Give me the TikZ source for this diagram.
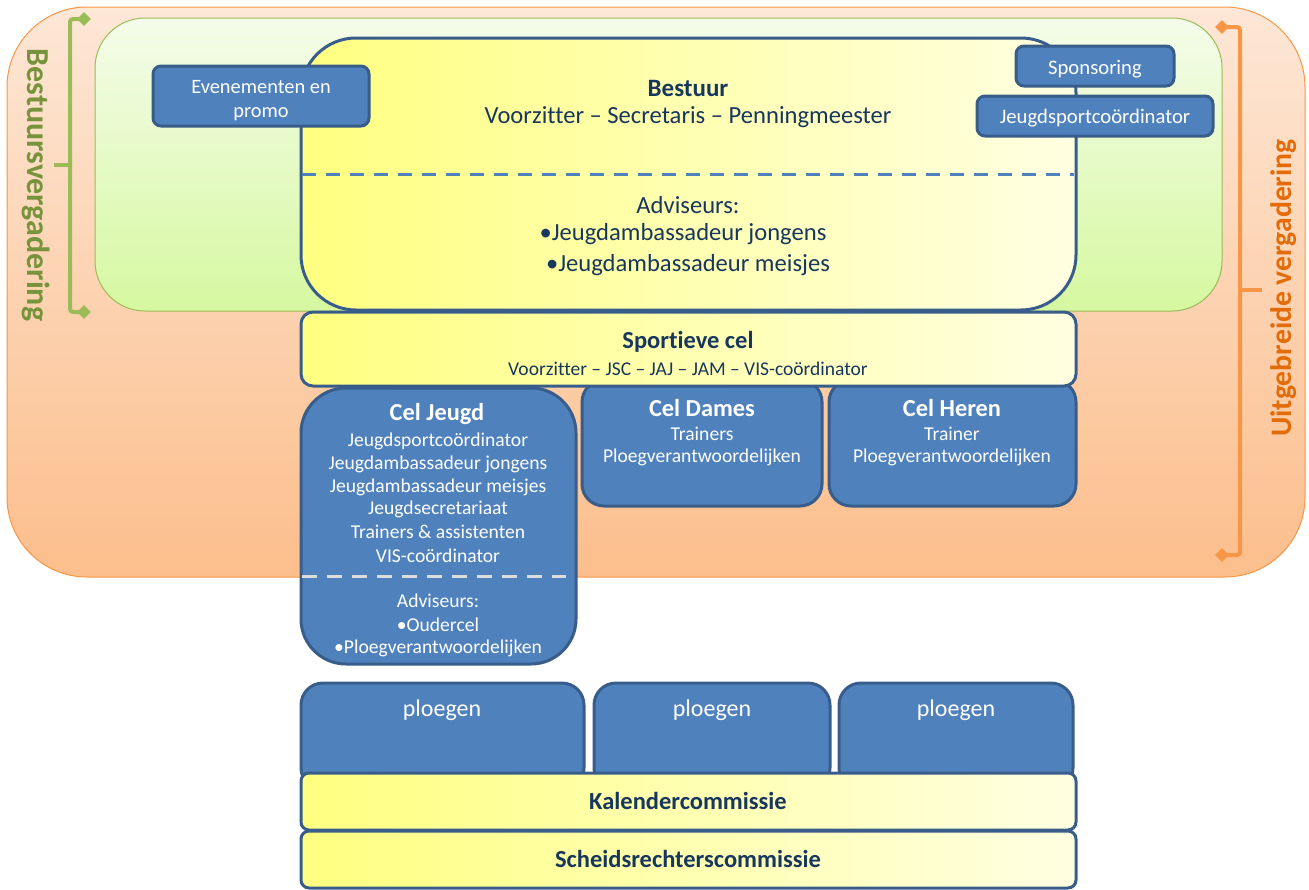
\documentclass[tikz,border=0pt]{standalone}
\usepackage{fontspec}
\setmainfont{Carlito}[Ligatures=CommonOff]
\usetikzlibrary{shapes.geometric}
\definecolor{blueF}{HTML}{4F81BD}
\definecolor{blueD}{HTML}{385D8A}
\definecolor{navy}{HTML}{17375E}
\definecolor{yelA}{HTML}{FFFF80}
\definecolor{yelB}{HTML}{FFFFE2}
\definecolor{orA}{HTML}{FDE7D6}
\definecolor{orB}{HTML}{FCBE8C}
\definecolor{orLine}{HTML}{F79646}
\definecolor{orText}{HTML}{E36C09}
\definecolor{grA}{HTML}{F4FCEA}
\definecolor{grB}{HTML}{D6F8A0}
\definecolor{grLine}{HTML}{9BBB59}
\definecolor{grText}{HTML}{77933C}
\definecolor{dashGrey}{HTML}{DCDCDC}
\tikzset{
  bluebox/.style={draw=blueD, line width=3, fill=blueF, inner sep=0},
  yelbox/.style={draw=blueD, line width=3, left color=yelA, right color=yelB, inner sep=0},
  wtxt/.style={text=white, inner sep=0, font=\fontsize{19.6}{22}\selectfont},
  wbold/.style={text=white, inner sep=0, font=\bfseries\fontsize{24.4}{28}\selectfont},
  ntxt/.style={text=navy, inner sep=0, font=\fontsize{24.6}{28}\selectfont},
  nbold/.style={text=navy, inner sep=0, font=\bfseries\fontsize{25}{28}\selectfont},
  gem/.style={diamond, inner sep=0, minimum size=14},
}
\begin{document}
\begin{tikzpicture}[x=1pt,y=-1pt]
\useasboundingbox (0,0) rectangle (1309,889);
% outer orange
\node[draw=orLine, line width=1, top color=orA, bottom color=orB, rounded corners=80,
  minimum width=1298, minimum height=570, inner sep=0] (uit) at (656,292) {};
% green
\node[draw=grLine, line width=1, top color=grA, bottom color=grB, rounded corners=50,
  minimum width=1127, minimum height=293, inner sep=0] (bv) at (658.5,164.5) {};
% green brace
\coordinate (gt) at (84,19);
\coordinate (gb) at (84,312);
\coordinate (gm) at (70,165);
\coordinate (gmt) at (54,165);
\draw[grLine, line width=4, rounded corners=3] (gt) -- (70,19) -- (70,312) -- (gb);
\draw[grLine, line width=4] (gm) -- (gmt);
\node[gem, fill=grLine] (gd1) at (gt) {};
\node[gem, fill=grLine] (gd2) at (gb) {};
\node[text=grText, rotate=-90, inner sep=0, font=\bfseries\fontsize{32}{36}\selectfont] (bvlab) at (36,185) {Bestuursvergadering};
% orange brace
\coordinate (ot) at (1222,27);
\coordinate (ob) at (1222,555);
\coordinate (om) at (1240,290);
\coordinate (omt) at (1262,290);
\draw[orLine, line width=4, rounded corners=3] (ot) -- (1240,27) -- (1240,555) -- (ob);
\draw[orLine, line width=4] (om) -- (omt);
\node[gem, fill=orLine] (od1) at (ot) {};
\node[gem, fill=orLine] (od2) at (ob) {};
\node[text=orText, rotate=90, inner sep=0, font=\bfseries\fontsize{29.7}{34}\selectfont] (uvlab) at (1284,288) {Uitgebreide vergadering};
% Bestuur
\node[yelbox, rounded corners=55, minimum width=775, minimum height=272] (bestuur) at (688.5,174) {};
\coordinate (bdl) at (302,174);
\coordinate (bdr) at (1074,174);
\draw[blueF, line width=3, dash pattern=on 14 off 10] (bdl) -- (bdr);
\node[nbold] (bt1) at (688,88) {Bestuur};
\node[ntxt] (bt2) at (688,117) {Voorzitter -- Secretaris -- Penningmeester};
\node[ntxt] (bt3) at (688,205) {Adviseurs:};
\node[ntxt] (bt4) at (683,234) {•Jeugdambassadeur jongens};
\node[ntxt] (bt5) at (688,265) {•Jeugdambassadeur meisjes};
% small boxes
\node[bluebox, rounded corners=8, minimum width=216, minimum height=60] (even) at (261,96) {};
\node[wtxt, align=center, font=\fontsize{20.4}{24}\selectfont] (event) at (261,101) {Evenementen en\\promo};
\node[bluebox, rounded corners=8, minimum width=158, minimum height=40] (spons) at (1095,66) {};
\node[wtxt, font=\fontsize{20.7}{24}\selectfont] (sponst) at (1095,69) {Sponsoring};
\node[bluebox, rounded corners=8, minimum width=236, minimum height=40] (jsc) at (1095,116) {};
\node[wtxt, font=\fontsize{20.7}{24}\selectfont] (jsct) at (1095,118) {Jeugdsportcoördinator};
% Cel Dames / Heren
\node[bluebox, rounded corners=22, minimum width=240, minimum height=126] (dames) at (702,443) {};
\node[bluebox, rounded corners=22, minimum width=247, minimum height=126] (heren) at (952.5,443) {};
% Cel Jeugd
\node[bluebox, rounded corners=45, minimum width=275, minimum height=276] (jeugd) at (438.5,526) {};
\coordinate (jdl) at (302,576);
\coordinate (jdr) at (566,576);
\draw[dashGrey, line width=3, dash pattern=on 15 off 10] (jdl) -- (jdr);
% Sportieve cel
\node[yelbox, rounded corners=12, minimum width=775, minimum height=74] (sport) at (688.5,349) {};
\node[text=navy, inner sep=0, font=\bfseries\fontsize{24.5}{28}\selectfont] (st1) at (688,342) {Sportieve cel};
\node[text=navy, inner sep=0, font=\fontsize{19.5}{22}\selectfont] (st2) at (688,369) {Voorzitter -- JSC -- JAJ -- JAM -- VIS-coördinator};
% texts Cel Jeugd
\node[wbold] (cj0) at (437,414) {Cel Jeugd};
\node[wtxt] (cj1) at (438,441) {Jeugdsportcoördinator};
\node[wtxt] (cj2) at (438,464) {Jeugdambassadeur jongens};
\node[wtxt] (cj3) at (438,487) {Jeugdambassadeur meisjes};
\node[wtxt] (cj4) at (438,509) {Jeugdsecretariaat};
\node[wtxt] (cj5) at (438,532) {Trainers \& assistenten};
\node[wtxt] (cj6) at (438,556) {VIS-coördinator};
\node[wtxt] (cj7) at (438,601) {Adviseurs:};
\node[wtxt] (cj8) at (438,625) {•Oudercel};
\node[wtxt] (cj9) at (438,648) {•Ploegverantwoordelijken};
% texts Dames / Heren
\node[wbold] (cd0) at (702,408) {Cel Dames};
\node[wtxt] (cd1) at (702,434) {Trainers};
\node[wtxt] (cd2) at (702,457) {Ploegverantwoordelijken};
\node[wbold] (ch0) at (952,408) {Cel Heren};
\node[wtxt] (ch1) at (952,434) {Trainer};
\node[wtxt] (ch2) at (952,457) {Ploegverantwoordelijken};
% ploegen
\node[bluebox, rounded corners=22, minimum width=283, minimum height=107] (p1) at (442.5,736.5) {};
\node[bluebox, rounded corners=22, minimum width=236, minimum height=107] (p2) at (712,736.5) {};
\node[bluebox, rounded corners=22, minimum width=234, minimum height=107] (p3) at (956,736.5) {};
\node[wtxt, font=\fontsize{24}{28}\selectfont] (p1t) at (442,710) {ploegen};
\node[wtxt, font=\fontsize{24}{28}\selectfont] (p2t) at (712,710) {ploegen};
\node[wtxt, font=\fontsize{24}{28}\selectfont] (p3t) at (956,710) {ploegen};
% commissies
\node[yelbox, rounded corners=8, minimum width=775, minimum height=57] (kal) at (688.5,801.5) {};
\node[text=navy, inner sep=0, font=\bfseries\fontsize{24.5}{28}\selectfont] (kalt) at (688,801) {Kalendercommissie};
\node[yelbox, rounded corners=8, minimum width=775, minimum height=57] (sch) at (688.5,859.5) {};
\node[text=navy, inner sep=0, font=\bfseries\fontsize{24.5}{28}\selectfont] (scht) at (688,859) {Scheidsrechterscommissie};
\end{tikzpicture}
\end{document}
